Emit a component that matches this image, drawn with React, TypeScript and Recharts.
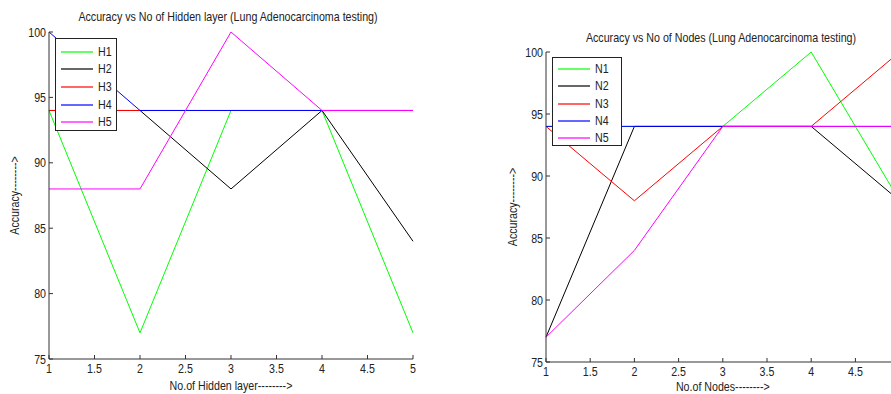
import { Legend, Line, LineChart, XAxis, YAxis } from "recharts";

const hiddenLayers = [1, 2, 3, 4, 5];
const h1 = [94, 77, 94, 94, 77];
const h2 = [94, 94, 88, 94, 84];
const h3 = [94, 94, 94, 94, 94];
const h4 = [100, 94, 94, 94, 94];
const h5 = [88, 88, 100, 94, 94];

const nodes = [1, 2, 3, 4, 5];
const n1 = [94, 94, 94, 100, 88];
const n2 = [77, 94, 94, 94, 88];
const n3 = [94, 88, 94, 94, 100];
const n4 = [94, 94, 94, 94, 94];
const n5 = [77, 84, 94, 94, 94];

const layerTicks = [1, 1.5, 2, 2.5, 3, 3.5, 4, 4.5, 5];
// the right plot runs past the window edge, its "5" tick is never visible
const nodeTicks = [1, 1.5, 2, 2.5, 3, 3.5, 4, 4.5];
const yTicks = [75, 80, 85, 90, 95, 100];

const layerKeys = ["H1", "H2", "H3", "H4", "H5"];
const nodeKeys = ["N1", "N2", "N3", "N4", "N5"];
const seriesColors = ["#00ff00", "#000000", "#ff0000", "#0000ff", "#ff00ff"];

const FONT = "'Liberation Sans', Arial, sans-serif";
const SQUEEZE = 0.82; // source text is a narrow sans
const TEXT = "#222";
const AXIS = "#333";

const layerData = hiddenLayers.map((x, i) => ({ x, H1: h1[i], H2: h2[i], H3: h3[i], H4: h4[i], H5: h5[i] }));
const nodeData = nodes.map((x, i) => ({ x, N1: n1[i], N2: n2[i], N3: n3[i], N4: n4[i], N5: n5[i] }));

function NarrowText({ x, y, anchor, rotate = 0, children }: any) {
  return (
    <text
      transform={`translate(${x} ${y}) rotate(${rotate}) scale(${SQUEEZE} 1)`}
      textAnchor={anchor}
      fill={TEXT}
      fontSize={13}
      fontFamily={FONT}
    >
      {children}
    </text>
  );
}

function XTick({ x, y, payload }: any) {
  return (
    <g>
      <line x1={x} x2={x} y1={y} y2={y - 4} stroke={AXIS} />
      <NarrowText x={x} y={y + 14} anchor="middle">
        {payload.value}
      </NarrowText>
    </g>
  );
}

function YTick({ x, y, payload }: any) {
  return (
    <g>
      <line x1={x} x2={x + 4} y1={y} y2={y} stroke={AXIS} />
      <NarrowText x={x - 3} y={y + 4.5} anchor="end">
        {payload.value}
      </NarrowText>
    </g>
  );
}

function xLabel(text: string, dy: number) {
  return ({ viewBox }: any) => (
    <NarrowText x={viewBox.x + viewBox.width / 2} y={viewBox.y + dy} anchor="middle">
      {text}
    </NarrowText>
  );
}

function yLabel(text: string, dx: number) {
  return ({ viewBox }: any) => (
    <NarrowText x={viewBox.x + dx + 4.5} y={viewBox.y + viewBox.height / 2} anchor="middle" rotate={-90}>
      {text}
    </NarrowText>
  );
}

function boxLegend(first: number, step: number) {
  return ({ payload }: any) => (
    <div style={{ position: "relative", width: "100%", height: "100%", boxSizing: "border-box", border: "1px solid #222", background: "#fff" }}>
      {(payload ?? []).map((entry: any, i: number) => {
        const rowTop = Math.round(first + i * step) - 8;
        return (
          <div key={entry.value} style={{ position: "absolute", left: 5, top: rowTop, height: 16, width: 70 }}>
            <svg width={32} height={16} style={{ position: "absolute", left: 0, top: 0 }}>
              <line x1={0} x2={32} y1={8} y2={8} stroke={seriesColors[i]} strokeWidth={1.2} />
            </svg>
            <span
              style={{
                position: "absolute",
                left: 37,
                top: 0,
                lineHeight: "16px",
                fontFamily: FONT,
                fontSize: 13,
                color: TEXT,
                transform: `scaleX(${SQUEEZE})`,
                transformOrigin: "left center"
              }}
            >
              {entry.value}
            </span>
          </div>
        );
      })}
    </div>
  );
}

function Title({ text, center, top }: { text: string; center: number; top: number }) {
  return (
    <div
      style={{
        position: "absolute",
        left: center - 250,
        top,
        width: 500,
        textAlign: "center",
        fontFamily: FONT,
        fontSize: 13,
        lineHeight: "13px",
        color: TEXT,
        whiteSpace: "nowrap",
        transform: `scaleX(${SQUEEZE})`,
        transformOrigin: "center"
      }}
    >
      {text}
    </div>
  );
}

export default function App() {
  return (
    <div style={{ position: "fixed", left: 0, top: 0, width: 891, height: 394, overflow: "hidden", background: "#fff" }}>
      <div style={{ position: "absolute", left: 0, top: 0 }}>
        <LineChart width={440} height={394} data={layerData} margin={{ top: 32, right: 27, bottom: 0, left: 9 }}>
          <XAxis
            dataKey="x"
            type="number"
            domain={[1, 5]}
            ticks={layerTicks}
            interval={0}
            height={35}
            tickSize={0}
            tickMargin={0}
            tickLine={false}
            tick={<XTick />}
            axisLine={{ stroke: AXIS }}
            label={{ content: xLabel("No.of Hidden layer-------->", 31) }}
          />
          <YAxis
            type="number"
            domain={[75, 100]}
            ticks={yTicks}
            interval={0}
            width={40}
            tickSize={0}
            tickMargin={0}
            tickLine={false}
            tick={<YTick />}
            axisLine={{ stroke: AXIS }}
            label={{ content: yLabel("Accuracy-------->", 5) }}
          />
          <Legend
            layout="horizontal"
            verticalAlign="middle"
            align="center"
            content={boxLegend(12.7, 17.6)}
            wrapperStyle={{ left: 55, top: 38, width: 62, height: 93 }}
          />
          {layerKeys.map((key, i) => (
            <Line
              key={key}
              dataKey={key}
              type="linear"
              stroke={seriesColors[i]}
              strokeWidth={1}
              dot={false}
              legendType="line"
              isAnimationActive={false}
            />
          ))}
        </LineChart>
      </div>
      <Title text="Accuracy vs No of Hidden layer (Lung Adenocarcinoma testing)" center={228} top={10} />

      <div style={{ position: "absolute", left: 500, top: 0 }}>
        <LineChart width={420} height={394} data={nodeData} margin={{ top: 52, right: 20.4, bottom: 0, left: 6 }}>
          <XAxis
            dataKey="x"
            type="number"
            domain={[1, 5]}
            ticks={nodeTicks}
            interval={0}
            height={32}
            tickSize={0}
            tickMargin={0}
            tickLine={false}
            tick={<XTick />}
            axisLine={{ stroke: AXIS }}
            label={{ content: xLabel("No.of Nodes-------->", 29) }}
          />
          <YAxis
            type="number"
            domain={[75, 100]}
            ticks={yTicks}
            interval={0}
            width={40}
            tickSize={0}
            tickMargin={0}
            tickLine={false}
            tick={<YTick />}
            axisLine={{ stroke: AXIS }}
            label={{ content: yLabel("Accuracy-------->", 6) }}
          />
          <Legend
            layout="horizontal"
            verticalAlign="middle"
            align="center"
            content={boxLegend(11, 17.25)}
            wrapperStyle={{ left: 52, top: 57, width: 70, height: 89 }}
          />
          {nodeKeys.map((key, i) => (
            <Line
              key={key}
              dataKey={key}
              type="linear"
              stroke={seriesColors[i]}
              strokeWidth={1}
              dot={false}
              legendType="line"
              isAnimationActive={false}
            />
          ))}
        </LineChart>
      </div>
      <Title text="Accuracy vs No of Nodes (Lung Adenocarcinoma testing)" center={721} top={31} />
    </div>
  );
}
